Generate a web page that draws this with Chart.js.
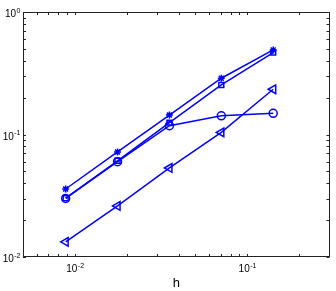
<!DOCTYPE html>
<html>
<head>
<meta charset="utf-8">
<script src="https://cdn.jsdelivr.net/npm/chart.js@4/dist/chart.umd.min.js"></script>
<style>
html,body{margin:0;padding:0;background:#fff;}
#wrap{width:336px;height:291px;position:relative;}
</style>
</head>
<body>
<div id="wrap"><canvas id="c"></canvas></div>
<script>
const hValues = [0.00884, 0.01768, 0.03536, 0.07071, 0.14142];
const errStar = [0.0359, 0.072, 0.144, 0.288, 0.49];
const errSquare = [0.0302, 0.061, 0.125, 0.254, 0.466];
const errCircle = [0.0301, 0.060, 0.118, 0.142, 0.149];
const errTriangle = [0.0133, 0.0261, 0.0533, 0.104, 0.234];
const xTickExponents = [-2, -1];
const yTickExponents = [0, -1, -2];
const xLabel = 'h';

function pts(ys){ return hValues.map((h,i)=>({x:h,y:ys[i]})); }
const blue = '#0000ff';
function ds(ys, style, r, rot){
  return {data:pts(ys), borderColor:blue, backgroundColor:'rgba(0,0,0,0)', borderWidth:1.5,
    pointStyle:style, pointRadius:r, pointBorderWidth:1.5, pointBorderColor:blue,
    pointBackgroundColor:'rgba(0,0,0,0)', pointRotation:rot||0, tension:0};
}

const axesPlugin = {
  id:'matlabAxes',
  afterDraw(chart){
    const ctx = chart.ctx, a = chart.chartArea;
    const xs = chart.scales.x, ys = chart.scales.y;
    ctx.save();
    ctx.strokeStyle = '#222'; ctx.lineWidth = 1;
    ctx.strokeRect(Math.round(a.left)+0.5, Math.round(a.top)+0.5, Math.round(a.right-a.left)-1, Math.round(a.bottom-a.top)-1);
    const tl = 3;
    ctx.beginPath();
    for (let d=-3; d<=0; d++){
      for (let m=1; m<=9; m++){
        const v = m*Math.pow(10,d);
        if (v < xs.min || v > xs.max) continue;
        const px = Math.round(xs.getPixelForValue(v))+0.5;
        ctx.moveTo(px, a.bottom); ctx.lineTo(px, a.bottom-tl);
        ctx.moveTo(px, a.top); ctx.lineTo(px, a.top+tl);
      }
    }
    for (let d=-2; d<=0; d++){
      for (let m=1; m<=9; m++){
        const v = m*Math.pow(10,d);
        if (v < ys.min || v > ys.max) continue;
        const py = Math.round(ys.getPixelForValue(v))+0.5;
        ctx.moveTo(a.left, py); ctx.lineTo(a.left+tl, py);
        ctx.moveTo(a.right, py); ctx.lineTo(a.right-tl, py);
      }
    }
    ctx.stroke();
    ctx.fillStyle = '#000';
    const baseFont = '10px "Liberation Sans", Arial, sans-serif';
    const expFont = '7px "Liberation Sans", Arial, sans-serif';
    function measure(e){
      ctx.font = baseFont; const w1 = ctx.measureText('10').width;
      ctx.font = expFont; const w2 = ctx.measureText(String(e)).width;
      return [w1,w2];
    }
    function draw(e, x0, yBase){
      const [w1,w2] = measure(e);
      ctx.textAlign='left'; ctx.textBaseline='alphabetic';
      ctx.font = baseFont; ctx.fillText('10', x0, yBase);
      ctx.font = expFont; ctx.fillText(String(e), x0+w1+0.5, yBase-4.5);
    }
    xTickExponents.forEach(e=>{
      const px = xs.getPixelForValue(Math.pow(10,e));
      const [w1,w2] = measure(e);
      draw(e, px-(w1+w2)/2, 272);
    });
    yTickExponents.forEach(e=>{
      const py = ys.getPixelForValue(Math.pow(10,e));
      const [w1,w2] = measure(e);
      draw(e, 20-(w1+w2), py+5);
    });
    ctx.font = '13px "Liberation Sans", Arial, sans-serif';
    ctx.textAlign='center'; ctx.textBaseline='alphabetic';
    ctx.fillText(xLabel, (a.left+a.right)/2, 287);
    ctx.restore();
  }
};

new Chart(document.getElementById('c'), {
  type:'line',
  data:{datasets:[
    ds(errStar,'star',3.5),
    ds(errSquare,'rect',3.5),
    ds(errCircle,'circle',4),
    ds(errTriangle,'triangle',5,-90)
  ]},
  options:{
    responsive:true, maintainAspectRatio:false, animation:false,
    layout:{padding:{top:12,right:3,left:0,bottom:0}},
    plugins:{legend:{display:false}, tooltip:{enabled:false}},
    scales:{
      x:{type:'logarithmic', min:0.005, max:0.3,
        ticks:{display:false}, grid:{display:false}, border:{display:false},
        afterFit(s){ s.height = 34; }},
      y:{type:'logarithmic', min:0.01, max:1,
        ticks:{display:false}, grid:{display:false}, border:{display:false},
        afterFit(s){ s.width = 23; }}
    }
  },
  plugins:[axesPlugin]
});
</script>
</body>
</html>
